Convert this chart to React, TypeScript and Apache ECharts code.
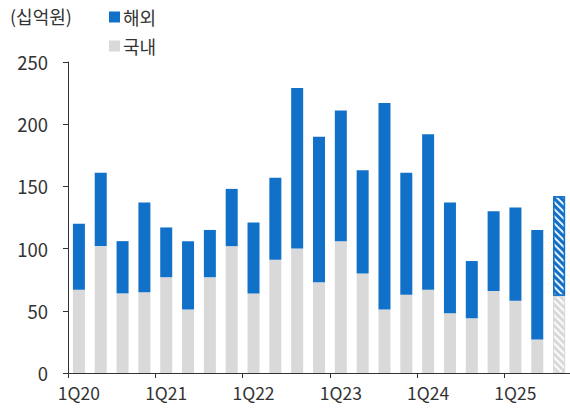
import React, { useEffect, useRef } from "react";
import * as echarts from "echarts";

const categories = [
  "1Q20", "2Q20", "3Q20", "4Q20",
  "1Q21", "2Q21", "3Q21", "4Q21",
  "1Q22", "2Q22", "3Q22", "4Q22",
  "1Q23", "2Q23", "3Q23", "4Q23",
  "1Q24", "2Q24", "3Q24", "4Q24",
  "1Q25", "2Q25", "3Q25F",
];
const domestic = [67, 102, 64, 65, 77, 51, 77, 102, 64, 91, 100, 73, 106, 80, 51, 63, 67, 48, 44, 66, 58, 27, 62];
const overseas = [53, 59, 42, 72, 40, 55, 38, 46, 57, 66, 129, 117, 105, 83, 166, 98, 125, 89, 46, 64, 75, 88, 80];
const forecastIndex = 22;

const BLUE = "#1170C8";
const GREY = "#D9D9D9";
const FONT = "'Noto Sans CJK KR', 'Noto Sans', sans-serif";

export default function App() {
  const ref = useRef<HTMLDivElement>(null);
  useEffect(() => {
    if (!ref.current) return;
    const chart = echarts.init(ref.current, undefined, { renderer: "svg" });
    const decalBase = {
      symbol: "rect",
      symbolSize: 1,
      dashArrayX: [1, 0],
      dashArrayY: [2, 3],
      rotation: Math.PI / 4,
      color: "rgba(255,255,255,0.9)",
    };
    const domData = domestic.map((v, i) =>
      i === forecastIndex
        ? { value: v, itemStyle: { color: GREY, borderColor: GREY, borderWidth: 1, decal: { ...decalBase } } }
        : v
    );
    const ovsData = overseas.map((v, i) =>
      i === forecastIndex
        ? { value: v, itemStyle: { color: BLUE, borderColor: BLUE, borderWidth: 1.5, decal: { ...decalBase } } }
        : v
    );
    chart.setOption({
      animation: false,
      textStyle: { fontFamily: FONT },
      title: {
        text: "(십억원)",
        left: 5,
        top: 2,
        textStyle: { fontFamily: FONT, fontSize: 18, fontWeight: "normal", color: "#333" },
      },
      legend: {
        orient: "vertical",
        left: 104,
        top: 3,
        itemWidth: 11,
        itemHeight: 11,
        itemGap: 11,
        icon: "rect",
        data: ["해외", "국내"],
        textStyle: { fontFamily: FONT, fontSize: 18, color: "#333", padding: [0, 0, 0, -2] },
      },
      grid: { left: 68, right: 0, top: 62, bottom: 37 },
      xAxis: {
        type: "category",
        data: categories,
        axisLine: { lineStyle: { color: "#333", width: 1 } },
        axisTick: { show: true, interval: 3, length: 5, lineStyle: { color: "#333" } },
        axisLabel: {
          interval: 3,
          margin: 11,
          fontSize: 17.5,
          color: "#333",
          fontFamily: FONT,
        },
      },
      yAxis: {
        type: "value",
        min: 0,
        max: 250,
        interval: 50,
        axisLine: { show: true, lineStyle: { color: "#333", width: 1 } },
        axisTick: { show: true, length: 5, lineStyle: { color: "#333" } },
        splitLine: { show: false },
        axisLabel: { fontSize: 18.5, color: "#333", margin: 20, fontFamily: FONT },
      },
      series: [
        {
          name: "국내",
          type: "bar",
          stack: "total",
          barWidth: 12,
          itemStyle: { color: GREY },
          data: domData,
        },
        {
          name: "해외",
          type: "bar",
          stack: "total",
          barWidth: 12,
          itemStyle: { color: BLUE },
          data: ovsData,
        },
      ],
    });
    return () => chart.dispose();
  }, []);
  return (
    <div
      ref={ref}
      style={{ position: "fixed", left: 0, top: 0, width: 570, height: 410, background: "#fff" }}
    />
  );
}
